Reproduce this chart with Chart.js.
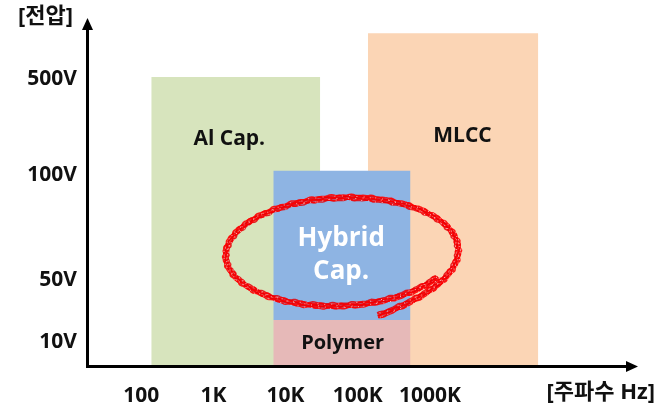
<!DOCTYPE html>
<html>
<head>
<meta charset="utf-8">
<script src="https://cdn.jsdelivr.net/npm/chart.js@4"></script>
<style>
  body { margin: 0; background: #fff; }
</style>
</head>
<body>
<canvas id="capChart" width="662" height="409"></canvas>
<script>
// frequency axis is in log10(Hz), voltage axis is a plain level scale
const xTickValues = [2, 3, 4, 5, 6];
const xTickLabels = ['100', '1K', '10K', '100K', '1000K'];
const yTickValues = [0.72, 2.53, 5.62, 8.45];
const yTickLabels = ['10V', '50V', '100V', '500V'];

// first entry is drawn on top
const capNames = ['Hybrid\nCap.', 'Polymer', 'MLCC', 'Al Cap.'];
const freqFrom = [3.83, 3.83, 5.14, 2.14];
const freqTo = [5.73, 5.73, 7.50, 4.48];
const voltFrom = [1.35, 0, 0, 0];
const voltTo = [5.74, 1.35, 9.79, 8.50];

const capColors = ['#8EB4E3', '#E6B9B8', '#FBD5B5', '#D7E4BD'];
const FONT = "'Open Sans', 'Noto Sans CJK KR', sans-serif";

const datasets = capNames.map((name, i) => ({
    label: name,
    data: [{ x: freqFrom[i], y: voltTo[i] }, { x: freqTo[i], y: voltTo[i] }],
    fill: { value: voltFrom[i] },
    backgroundColor: capColors[i],
    borderWidth: 0,
    pointRadius: 0,
    tension: 0
}));

// box captions
const boxLabels = {
    id: 'boxLabels',
    afterDatasetsDraw(chart, args, opts) {
        const { ctx, scales: { x, y } } = chart;
        ctx.save();
        ctx.textAlign = 'center';
        ctx.textBaseline = 'middle';
        opts.spots.forEach((s, i) => {
            const lines = capNames[i].split('\n');
            ctx.font = 'bold ' + s.size + 'px ' + FONT;
            ctx.fillStyle = s.color;
            const lh = s.size * 1.3;
            const cx = x.getPixelForValue(s.x);
            const cy = y.getPixelForValue(s.y) - (lines.length - 1) * lh / 2;
            lines.forEach((t, k) => ctx.fillText(t, cx, cy + k * lh));
        });
        ctx.restore();
    }
};

// red crayon ring around the hybrid box
const scribble = {
    id: 'scribble',
    afterDatasetsDraw(chart, args, o) {
        const { ctx, scales: { x, y } } = chart;
        const cx = x.getPixelForValue(o.cx), cy = y.getPixelForValue(o.cy);
        const rx = x.getPixelForValue(o.cx + o.rx) - cx;
        const ry = cy - y.getPixelForValue(o.cy + o.ry);
        const start = 1.32, span = 2 * Math.PI + 0.75, steps = 420;
        const pathPoint = (s, off, ph) => {
            const t = start - s;
            const grow = 1 + 0.22 * Math.exp(-s / 0.45) - 0.03 * (s / span);
            const wob = 0.5 * Math.sin(t * 37 + ph) + 0.35 * Math.sin(t * 71 + ph * 3);
            return [(rx * grow + off + wob) * Math.cos(t), (ry * grow + off + wob) * Math.sin(t)];
        };
        ctx.save();
        ctx.translate(cx, cy);
        ctx.rotate(-0.04);
        ctx.lineCap = 'round';
        ctx.lineJoin = 'round';
        const offs = [-2.6, -1.8, -1.0, -0.3, 0.4, 1.1, 1.8, 2.6];
        offs.forEach((off, j) => {
            ctx.strokeStyle = j % 2 ? 'rgba(255,0,0,0.9)' : 'rgba(228,0,8,0.85)';
            ctx.lineWidth = 1.5;
            ctx.beginPath();
            for (let k = 0; k <= steps; k++) {
                const [px, py] = pathPoint(span * k / steps, off, j * 1.7);
                if (k === 0) ctx.moveTo(px, py); else ctx.lineTo(px, py);
            }
            ctx.stroke();
        });
        // light specks in the crayon stroke
        ctx.fillStyle = 'rgba(255,215,215,0.8)';
        for (let k = 0; k <= 900; k++) {
            const s = span * k / 900;
            const off = 2.4 * Math.sin(k * 2.39);
            const [px, py] = pathPoint(s, off, 0.5);
            if (Math.sin(k * 7.13) > 0.55) ctx.fillRect(px, py, 1, 1);
        }
        ctx.restore();
    }
};

// arrow heads and axis captions
const axisDecor = {
    id: 'axisDecor',
    afterDraw(chart) {
        const { ctx, chartArea: a } = chart;
        ctx.save();
        ctx.fillStyle = '#000';
        ctx.beginPath();
        ctx.moveTo(a.left + 0.5, a.top - 8);
        ctx.lineTo(a.left - 5, a.top + 4);
        ctx.lineTo(a.left + 6, a.top + 4);
        ctx.closePath();
        ctx.fill();
        ctx.beginPath();
        ctx.moveTo(a.right + 8, a.bottom + 0.5);
        ctx.lineTo(a.right - 4, a.bottom - 5);
        ctx.lineTo(a.right - 4, a.bottom + 6);
        ctx.closePath();
        ctx.fill();
        ctx.fillStyle = '#111';
        ctx.font = 'bold 22px ' + FONT;
        ctx.textBaseline = 'middle';
        ctx.textAlign = 'left';
        ctx.fillText('[전압]', 18, 17);
        ctx.textAlign = 'right';
        ctx.fillText('[주파수 Hz]', 655, 393);
        ctx.restore();
    }
};

const tickFont = { size: 21, weight: 'bold', family: FONT };

new Chart(document.getElementById('capChart'), {
    type: 'line',
    data: { datasets: datasets },
    plugins: [boxLabels, scribble, axisDecor],
    options: {
        responsive: false,
        animation: false,
        devicePixelRatio: 1,
        layout: { padding: { left: 0, top: 26, right: 32, bottom: 0 } },
        plugins: {
            legend: { display: false },
            tooltip: { enabled: false },
            boxLabels: {
                spots: [
                    { x: 4.77, y: 3.26, size: 26, color: '#fff' },
                    { x: 4.79, y: 0.68, size: 20, color: '#111' },
                    { x: 6.45, y: 6.76, size: 21, color: '#111' },
                    { x: 3.22, y: 6.68, size: 21, color: '#111' }
                ]
            },
            scribble: { cx: 4.76, cy: 3.35, rx: 1.62, ry: 1.62 }
        },
        scales: {
            x: {
                type: 'linear',
                min: 1.25,
                max: 8.77,
                afterFit: s => { s.height = 43; },
                afterBuildTicks: s => { s.ticks = xTickValues.map(v => ({ value: v })); },
                ticks: {
                    callback: (v, i) => xTickLabels[i],
                    font: tickFont,
                    color: '#111',
                    padding: 17,
                    maxRotation: 0,
                    autoSkip: false
                },
                grid: { display: false, drawTicks: false },
                border: { display: true, color: '#000', width: 3, z: 1 }
            },
            y: {
                type: 'linear',
                min: 0,
                max: 10,
                afterFit: s => { s.width = 87; },
                afterBuildTicks: s => { s.ticks = yTickValues.map(v => ({ value: v })); },
                ticks: {
                    callback: (v, i) => yTickLabels[i],
                    font: tickFont,
                    color: '#111',
                    padding: 10,
                    autoSkip: false
                },
                grid: { display: false, drawTicks: false },
                border: { display: true, color: '#000', width: 3, z: 1 }
            }
        }
    }
});
</script>
</body>
</html>
